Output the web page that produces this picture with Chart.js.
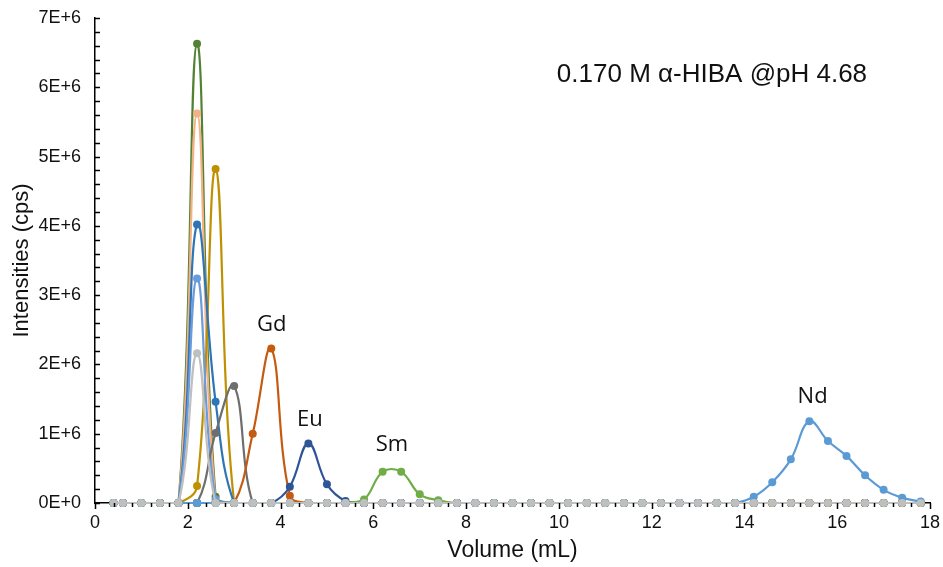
<!DOCTYPE html>
<html>
<head>
<meta charset="utf-8">
<script src="https://cdn.jsdelivr.net/npm/chart.js@4"></script>
<style>
  html, body { margin: 0; padding: 0; background: #fff; }
  #wrap { width: 943px; height: 567px; }
</style>
</head>
<body>
<div id="wrap"><canvas id="chart" width="943" height="567"></canvas></div>
<script>
// Elution volume (mL) of each collected fraction
const volume = [0.4, 0.6, 1.0, 1.4, 1.8, 2.2, 2.6, 3.0, 3.4, 3.8, 4.2, 4.6, 5.0, 5.4, 5.8,
                6.2, 6.6, 7.0, 7.4, 7.8, 8.2, 8.6, 9.0, 9.4, 9.8, 10.2, 10.6, 11.0, 11.4, 11.8,
                12.2, 12.6, 13.0, 13.4, 13.8, 14.2, 14.6, 15.0, 15.4, 15.8, 16.2, 16.6, 17.0, 17.4, 17.8];

// Intensities in units of 1E+6 cps
const seriesGreen = [0, 0, 0, 0, 0, 6.63, 0.09, 0, 0, 0, 0, 0, 0, 0, 0,
                     0, 0, 0, 0, 0, 0, 0, 0, 0, 0, 0, 0, 0, 0, 0,
                     0, 0, 0, 0, 0, 0, 0, 0, 0, 0, 0, 0, 0, 0, 0];
const seriesOrange = [0, 0, 0, 0, 0, 5.62, 0.02, 0, 0, 0, 0, 0, 0, 0, 0,
                      0, 0, 0, 0, 0, 0, 0, 0, 0, 0, 0, 0, 0, 0, 0,
                      0, 0, 0, 0, 0, 0, 0, 0, 0, 0, 0, 0, 0, 0, 0];
const seriesGold = [0, 0, 0, 0, 0, 0.245, 4.82, 0, 0, 0, 0, 0, 0, 0, 0,
                    0, 0, 0, 0, 0, 0, 0, 0, 0, 0, 0, 0, 0, 0, 0,
                    0, 0, 0, 0, 0, 0, 0, 0, 0, 0, 0, 0, 0, 0, 0];
const seriesBlue = [0, 0, 0, 0, 0, 4.02, 1.46, 0, 0, 0, 0, 0, 0, 0, 0,
                    0, 0, 0, 0, 0, 0, 0, 0, 0, 0, 0, 0, 0, 0, 0,
                    0, 0, 0, 0, 0, 0, 0, 0, 0, 0, 0, 0, 0, 0, 0];
const seriesLightBlue = [0, 0, 0, 0, 0, 3.24, 0.05, 0, 0, 0, 0, 0, 0, 0, 0,
                         0, 0, 0, 0, 0, 0, 0, 0, 0, 0, 0, 0, 0, 0, 0,
                         0, 0, 0, 0, 0, 0, 0, 0, 0, 0, 0, 0, 0, 0, 0];
const seriesDarkGray = [0, 0, 0, 0, 0, 0, 1.01, 1.69, 0, 0, 0, 0, 0, 0, 0,
                        0, 0, 0, 0, 0, 0, 0, 0, 0, 0, 0, 0, 0, 0, 0,
                        0, 0, 0, 0, 0, 0, 0, 0, 0, 0, 0, 0, 0, 0, 0];
const seriesGd = [0, 0, 0, 0, 0, 0, 0, 0, 1.0, 2.23, 0.105, 0, 0, 0, 0,
                  0, 0, 0, 0, 0, 0, 0, 0, 0, 0, 0, 0, 0, 0, 0,
                  0, 0, 0, 0, 0, 0, 0, 0, 0, 0, 0, 0, 0, 0, 0];
const seriesEu = [0, 0, 0, 0, 0, 0, 0, 0, 0, 0, 0.235, 0.86, 0.27, 0.03, 0,
                  0, 0, 0, 0, 0, 0, 0, 0, 0, 0, 0, 0, 0, 0, 0,
                  0, 0, 0, 0, 0, 0, 0, 0, 0, 0, 0, 0, 0, 0, 0];
const seriesSm = [0, 0, 0, 0, 0, 0, 0, 0, 0, 0, 0, 0, 0, 0, 0.05,
                  0.45, 0.45, 0.125, 0.04, 0, 0, 0, 0, 0, 0, 0, 0, 0, 0, 0,
                  0, 0, 0, 0, 0, 0, 0, 0, 0, 0, 0, 0, 0, 0, 0];
const seriesNd = [0, 0, 0, 0, 0, 0, 0, 0, 0, 0, 0, 0, 0, 0, 0,
                  0, 0, 0, 0, 0, 0, 0, 0, 0, 0, 0, 0, 0, 0, 0,
                  0, 0, 0, 0, 0, 0.09, 0.30, 0.63, 1.18, 0.895, 0.68, 0.40, 0.19, 0.077, 0.02];
const seriesLightGray = [0, 0, 0, 0, 0, 2.16, 0, 0, 0, 0, 0, 0, 0, 0, 0,
                         0, 0, 0, 0, 0, 0, 0, 0, 0, 0, 0, 0, 0, 0, 0,
                         0, 0, 0, 0, 0, 0, 0, 0, 0, 0, 0, 0, 0, 0, 0];

const yTickLabels = ['0E+0', '1E+6', '2E+6', '3E+6', '4E+6', '5E+6', '6E+6', '7E+6'];

// Peak labels and caption, placed in data units
const notes = [
    { text: 'Gd', x: 3.81, y: 2.57, font: '22px "Open Sans"' },
    { text: 'Eu', x: 4.63, y: 1.2, font: '22px "Open Sans"' },
    { text: 'Sm', x: 6.4, y: 0.84, font: '22px "Open Sans"' },
    { text: 'Nd', x: 15.47, y: 1.54, font: '22px "Open Sans"' },
    { text: '0.170 M \u03B1-HIBA @pH 4.68', x: 13.3, y: 6.18, font: '26px "Liberation Sans"' }
];

function toPoints(values) {
    return volume.map((v, i) => ({ x: v, y: values[i] }));
}

function makeSet(values, color) {
    return {
        data: toPoints(values),
        borderColor: color,
        backgroundColor: color,
        borderWidth: 2.2,
        pointRadius: 4,
        pointHoverRadius: 4,
        pointBorderWidth: 0,
        tension: 0.4,
        fill: false,
        clip: { left: 6, top: 6, right: 6, bottom: 6 }
    };
}

// Inward ticks on y, outward ticks on x, plus the text notes
const axisExtras = {
    id: 'axisExtras',
    afterDatasetsDraw(chart) {
        const ctx = chart.ctx;
        const xs = chart.scales.x;
        const ys = chart.scales.y;
        const area = chart.chartArea;
        ctx.save();
        ctx.strokeStyle = '#000';
        ctx.lineWidth = 1.5;
        for (let k = 0; k <= 35; k++) {
            const py = Math.round(ys.getPixelForValue(k * 0.2)) + 0.5;
            ctx.beginPath();
            ctx.moveTo(area.left, py);
            ctx.lineTo(area.left + 5, py);
            ctx.stroke();
        }
        for (let k = 0; k <= 45; k++) {
            const px = Math.round(xs.getPixelForValue(k * 0.4)) + 0.5;
            const len = (k % 5 === 0) ? 6 : 4;
            ctx.beginPath();
            ctx.moveTo(px, area.bottom);
            ctx.lineTo(px, area.bottom + len);
            ctx.stroke();
        }
        ctx.fillStyle = '#111';
        ctx.textAlign = 'center';
        ctx.textBaseline = 'middle';
        notes.forEach(n => {
            ctx.font = n.font;
            ctx.fillText(n.text, xs.getPixelForValue(n.x), ys.getPixelForValue(n.y));
        });
        ctx.restore();
    }
};

const ctx = document.getElementById('chart').getContext('2d');
const chart = new Chart(ctx, {
    type: 'line',
    data: {
        datasets: [
            makeSet(seriesLightGray, '#BFBFBF'),
            makeSet(seriesNd, '#5B9BD5'),
            makeSet(seriesSm, '#70AD47'),
            makeSet(seriesEu, '#2F5597'),
            makeSet(seriesGd, '#C55A11'),
            makeSet(seriesDarkGray, '#6E6E6E'),
            makeSet(seriesLightBlue, '#6A9BDB'),
            makeSet(seriesBlue, '#2E75B6'),
            makeSet(seriesGold, '#BF9000'),
            makeSet(seriesOrange, '#F4B183'),
            makeSet(seriesGreen, '#548235')
        ]
    },
    options: {
        responsive: false,
        animation: false,
        layout: { padding: { top: 18, right: 13, left: 0, bottom: 0 } },
        plugins: {
            legend: { display: false },
            tooltip: { enabled: false }
        },
        scales: {
            x: {
                type: 'linear',
                min: 0,
                max: 18,
                grid: { display: false, drawTicks: false },
                border: { display: true, color: '#000', width: 1.5 },
                ticks: {
                    stepSize: 2,
                    padding: 9,
                    color: '#111',
                    font: { family: 'Liberation Sans', size: 18 },
                    maxRotation: 0
                },
                title: {
                    display: true,
                    text: 'Volume (mL)',
                    color: '#111',
                    font: { family: 'Liberation Sans', size: 23 },
                    padding: { top: 0, bottom: 3 }
                },
                afterFit(scale) {
                    scale.height = 64;
                    scale.paddingLeft = 0;
                    scale.paddingRight = 0;
                }
            },
            y: {
                min: 0,
                max: 7,
                grid: { display: false, drawTicks: false },
                border: { display: true, color: '#000', width: 1.5 },
                ticks: {
                    stepSize: 1,
                    padding: 14,
                    color: '#111',
                    font: { family: 'Liberation Sans', size: 18 },
                    callback: (v) => yTickLabels[Math.round(v)]
                },
                title: {
                    display: true,
                    text: 'Intensities (cps)',
                    color: '#111',
                    font: { family: 'Liberation Sans', size: 22 },
                    padding: { top: 9, bottom: 0 }
                },
                afterFit(scale) {
                    scale.width = 95;
                    scale.paddingTop = 0;
                    scale.paddingBottom = 0;
                }
            }
        }
    },
    plugins: [axisExtras]
});
</script>
</body>
</html>
